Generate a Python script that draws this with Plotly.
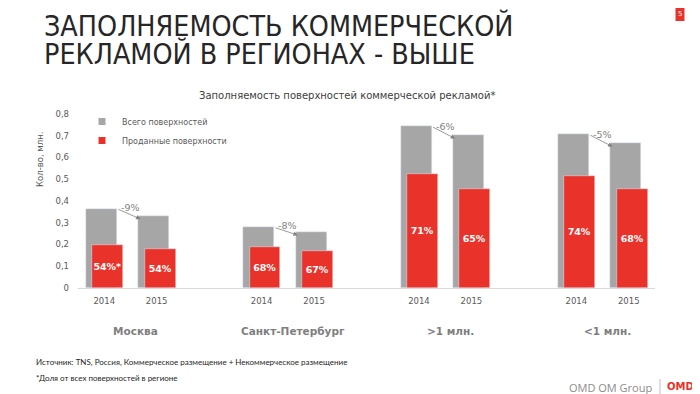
import plotly.graph_objects as go

# ---------------- data ----------------
regions = ["Москва", "Санкт-Петербург", ">1 млн.", "<1 млн."]
years = ["2014", "2015"]
total_2014 = [0.365, 0.279, 0.743, 0.706]
total_2015 = [0.332, 0.258, 0.702, 0.665]
sold_2014 = [0.199, 0.189, 0.524, 0.516]
sold_2015 = [0.179, 0.172, 0.457, 0.453]
share_2014 = ["54%*", "68%", "71%", "74%"]
share_2015 = ["54%", "67%", "65%", "68%"]
change = ["-9%", "-8%", "-6%", "-5%"]
y_ticks = [0, 0.1, 0.2, 0.3, 0.4, 0.5, 0.6, 0.7, 0.8]
y_tick_labels = ["0", "0,1", "0,2", "0,3", "0,4", "0,5", "0,6", "0,7", "0,8"]

series_total = "Всего поверхностей"
series_sold = "Проданные поверхности"
chart_title = "Заполняемость поверхностей коммерческой рекламой*"
slide_title_1 = "ЗАПОЛНЯЕМОСТЬ КОММЕРЧЕСКОЙ"
slide_title_2 = "РЕКЛАМОЙ В РЕГИОНАХ - ВЫШЕ"
y_title = "Кол-во, млн."
source_note = "Источник: TNS, Россия, Коммерческое размещение + Некоммерческое размещение"
share_note = "*Доля от всех поверхностей в регионе"
page_number = "5"

# ---------------- styling ----------------
GRAY = "#a6a6a6"
RED = "#e8322a"
TXT = "#595959"
FONT = "DejaVu Sans, Verdana, sans-serif"

# the page body has an 8px margin: build the figure 8px smaller and shift coordinates
OX, OY = 8, 8
W, H = 700 - OX, 394 - OY
PLOT_L, PLOT_R, PLOT_T, PLOT_B = 78, 655, 114, 288   # plot area in page pixels
L, T = PLOT_L - OX, PLOT_T - OY
R, B = W - (PLOT_R - OX), H - (PLOT_B - OY)
PW, PH = W - L - R, H - T - B


def px(xp):
    return (xp - OX - L) / PW


def py(yp):
    return (H - B - (yp - OY)) / PH


STEP = 3  # slots per region (2 years + 1 gap)
BAR_W = 0.59
GRAY_OFF = -0.35
RED_OFF = -0.23

x_pos, tot, sold, share, ticktext = [], [], [], [], []
for g in range(len(regions)):
    for j, yr in enumerate(years):
        x_pos.append(g * STEP + j)
        ticktext.append(yr)
    tot += [total_2014[g], total_2015[g]]
    sold += [sold_2014[g], sold_2015[g]]
    share += [share_2014[g], share_2015[g]]

fig = go.Figure()
fig.add_trace(go.Bar(
    x=x_pos, y=tot, width=BAR_W, offset=GRAY_OFF, marker_color=GRAY,
    name=series_total, showlegend=False, hoverinfo="y"))
fig.add_trace(go.Bar(
    x=x_pos, y=sold, width=BAR_W, offset=RED_OFF, marker_color=RED,
    name=series_sold, showlegend=False, text=share, textposition="inside",
    insidetextanchor="middle", constraintext="none", textangle=0,
    textfont=dict(family=FONT, size=9.5, color="white", weight="bold"),
    hoverinfo="y"))
# legend entries (small squares like the original)
fig.add_trace(go.Scatter(x=[None], y=[None], mode="markers", name=series_total,
                         marker=dict(symbol="square", size=7, color=GRAY)))
fig.add_trace(go.Scatter(x=[None], y=[None], mode="markers", name=series_sold,
                         marker=dict(symbol="square", size=7, color=RED)))

ann = []
for g in range(len(regions)):
    x0 = g * STEP + GRAY_OFF + BAR_W
    x1 = g * STEP + 1 + GRAY_OFF + 0.04
    y0, y1 = total_2014[g], total_2015[g] - 0.015
    ann.append(dict(x=x1, y=y1, ax=x0, ay=y0, xref="x", yref="y", axref="x", ayref="y",
                    text="", showarrow=True, arrowhead=2, arrowsize=1.1, arrowwidth=0.8,
                    arrowcolor="#808080", standoff=0, startstandoff=0))
    ann.append(dict(x=(x0 + x1) / 2, y=(y0 + y1) / 2, xref="x", yref="y", text=change[g],
                    showarrow=False, yshift=6, xshift=2,
                    font=dict(family=FONT, size=9.5, color="#7f7f7f")))
    ann.append(dict(x=g * STEP + 0.5, y=py(331), xref="x", yref="paper", text="<b>%s</b>" % regions[g],
                    showarrow=False, xshift=5, yanchor="middle",
                    font=dict(family=FONT, size=10.5, color="#7f7f7f")))

ann.append(dict(x=px(347), y=py(95), xref="paper", yref="paper", text=chart_title, showarrow=False,
                yanchor="middle", font=dict(family=FONT, size=10, color="#404040")))
ann.append(dict(x=px(40), y=py(160), xref="paper", yref="paper", text=y_title, showarrow=False,
                textangle=-90, xanchor="center", yanchor="middle",
                font=dict(family=FONT, size=8.5, color=TXT)))
TFONT = "DejaVu Sans Condensed, Liberation Sans, sans-serif"
ann.append(dict(x=px(42), y=py(25.5), xref="paper", yref="paper", text=slide_title_1, showarrow=False,
                xanchor="left", yanchor="middle", font=dict(family=TFONT, size=28.4, color="#262626")))
ann.append(dict(x=px(42), y=py(53.5), xref="paper", yref="paper", text=slide_title_2, showarrow=False,
                xanchor="left", yanchor="middle", font=dict(family=TFONT, size=28.4, color="#262626")))
NFONT = "Lato, Open Sans, sans-serif"
ann.append(dict(x=px(34), y=py(362), xref="paper", yref="paper", text=source_note, showarrow=False,
                xanchor="left", yanchor="middle", font=dict(family=NFONT, size=8, color="#262626")))
ann.append(dict(x=px(34), y=py(378), xref="paper", yref="paper", text=share_note, showarrow=False,
                xanchor="left", yanchor="middle", font=dict(family=NFONT, size=8, color="#262626")))
ann.append(dict(x=px(654), y=py(387), xref="paper", yref="paper", text="OMD OM Group", showarrow=False,
                xanchor="right", yanchor="middle",
                font=dict(family="Open Sans, sans-serif", size=11, color="#8c8c8c")))
ann.append(dict(x=px(680), y=py(386), xref="paper", yref="paper", text="<b>OMD</b>", showarrow=False,
                xanchor="center", yanchor="middle", font=dict(family="DejaVu Sans", size=10, color=RED)))
ann.append(dict(x=px(680), y=py(14.5), xref="paper", yref="paper", text=page_number, showarrow=False,
                xanchor="center", yanchor="middle", font=dict(family=FONT, size=7, color="white")))

shapes = [
    dict(type="rect", xref="paper", yref="paper", x0=px(675.5), x1=px(684.5), y0=py(8), y1=py(21),
         fillcolor=RED, line_width=0),
    dict(type="line", xref="paper", yref="paper", x0=px(660), x1=px(660), y0=py(379), y1=py(394),
         line=dict(color="#bfbfbf", width=1)),
]

fig.update_layout(
    width=W, height=H, margin=dict(l=L, r=R, t=T, b=B),
    paper_bgcolor="white", plot_bgcolor="white",
    barmode="overlay", bargap=0,
    font=dict(family=FONT, color=TXT),
    annotations=ann, shapes=shapes,
    legend=dict(x=px(82), y=py(107), xanchor="left", yanchor="top",
                bgcolor="rgba(0,0,0,0)", itemwidth=30,
                font=dict(family=FONT, size=8, color=TXT), tracegroupgap=0),
    xaxis=dict(range=[-0.5, len(regions) * STEP - 1 - 0.5], tickvals=x_pos, ticktext=ticktext,
               showgrid=False, zeroline=False, showline=True, linecolor="#d9d9d9", linewidth=1,
               ticks="", ticklabelstandoff=5, tickfont=dict(family=FONT, size=8.5, color=TXT),
               fixedrange=True),
    yaxis=dict(range=[0, 0.8], tickvals=y_ticks, ticktext=y_tick_labels, showgrid=False,
               zeroline=False, showline=False, ticks="", ticklabelstandoff=8,
               tickfont=dict(family=FONT, size=8.5, color=TXT), fixedrange=True),
)

fig.write_html("out.html")
